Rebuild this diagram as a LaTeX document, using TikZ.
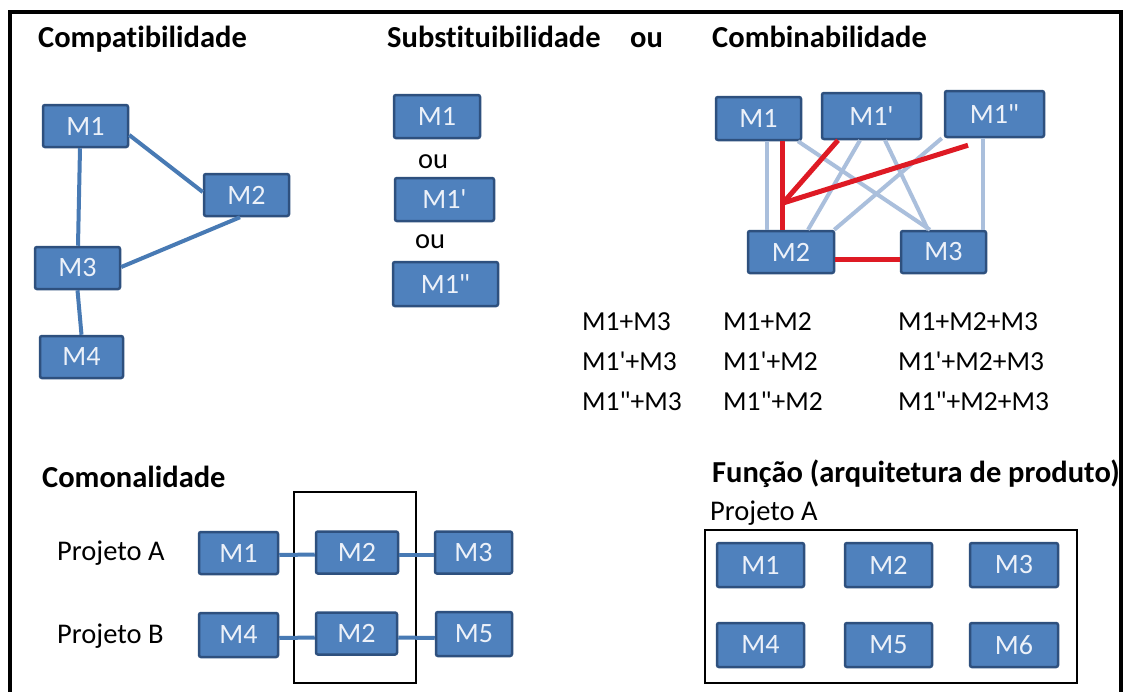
\documentclass[tikz,border=0pt]{standalone}
\usepackage{fontspec}
\setmainfont{Carlito}[Ligatures={NoCommon}]
\definecolor{boxfill}{RGB}{79,129,189}
\definecolor{boxdraw}{RGB}{46,80,126}
\definecolor{boxtext}{RGB}{236,241,249}
\definecolor{edgeblue}{RGB}{72,122,180}
\definecolor{lightedge}{RGB}{170,191,220}
\definecolor{rededge}{RGB}{222,26,36}
\newcommand{\pr}{\textquotesingle}
\newcommand{\dpr}{\textquotedbl}
\tikzset{
  mbox/.style={draw=boxdraw, line width=2.5pt, fill=boxfill, rounded corners=2pt,
    text=boxtext, font=\fontsize{28}{32}\selectfont, inner sep=0pt,
    minimum width=85pt, minimum height=42pt},
  ttl/.style={anchor=base west, inner sep=0pt, font=\bfseries\fontsize{30.5}{34}\selectfont},
  lbl/.style={anchor=base west, inner sep=0pt, font=\fontsize{28.5}{34}\selectfont},
  cmb/.style={anchor=base west, inner sep=0pt, font=\fontsize{27.5}{32}\selectfont},
  edge/.style={draw=edgeblue, line width=4pt},
  ledge/.style={draw=lightedge, line width=4pt},
  redge/.style={draw=rededge, line width=5pt},
  frame/.style={draw=black, line width=1.5pt}
}
\begin{document}
\begin{tikzpicture}[x=1pt, y=-1pt]
\useasboundingbox (0,0) rectangle (1127,691);
\fill[white] (0,0) rectangle (1127,691);
% outer frame
\draw[line width=4.5pt, line join=miter] (10,695) -- (10,12) -- (1121,12) -- (1121,695);

% titles
\node[ttl] (tcomp) at (38,47) {Compatibilidade};
\node[ttl] (tsubs) at (387,47) {Substituibilidade};
\node[ttl] (tou) at (630,47) {ou};
\node[ttl] (tcomb) at (712,47) {Combinabilidade};
\node[ttl] (tcomo) at (42,487) {Comonalidade};
\node[ttl] (tfunc) at (712,482) {Função (arquitetura de produto)};

% Compatibilidade
\node[mbox] (c1) at (85.5,126) {M1};
\node[mbox] (c2) at (246.5,195) {M2};
\node[mbox] (c3) at (77.5,268) {M3};
\node[mbox, minimum width=83pt] (c4) at (81.5,357) {M4};
\draw[edge] ([xshift=-5.5pt]c1.south) -- ([xshift=0.5pt]c3.north);
\draw[edge] ([yshift=-9pt]c1.east) -- ([yshift=3pt]c2.west);
\draw[edge] ([xshift=-6.5pt]c2.south) -- ([yshift=1pt]c3.east);
\draw[edge] (c3.south) -- (c4.north);

% Substituibilidade
\node[mbox, minimum width=86pt, minimum height=43pt] (s1) at (437,116.5) {M1};
\node[lbl] (ou1) at (418,168) {ou};
\node[mbox, minimum width=99pt, minimum height=43pt] (s2) at (444.5,199.5) {M1\pr};
\node[lbl] (ou2) at (415,248) {ou};
\node[mbox, minimum width=105pt, minimum height=44pt] (s3) at (445.5,284) {M1\dpr};

% Combinabilidade
\node[mbox, minimum height=43pt] (b1) at (758.5,118.5) {M1};
\node[mbox, minimum width=99pt, minimum height=46pt] (b1p) at (871.5,116) {M1\pr};
\node[mbox, minimum width=99pt, minimum height=46pt] (b1pp) at (994.5,114) {M1\dpr};
\node[mbox, minimum width=86pt] (b2) at (791,252) {M2};
\node[mbox] (b3) at (943.5,252) {M3};
\coordinate (J) at (783,203);
\draw[ledge] ([xshift=8.5pt]b1.south) -- ([xshift=-24pt]b2.north);
\draw[ledge] ([xshift=39.5pt]b1.south) -- ([xshift=-13.5pt]b3.north);
\draw[ledge] ([xshift=-11.5pt]b1p.south) -- ([xshift=17pt]b2.north);
\draw[ledge] ([xshift=13.5pt]b1p.south) -- ([xshift=-15.5pt]b3.north);
\draw[ledge] ([xshift=-2pt]b1pp.south west) -- ([xshift=-1pt]b2.north east);
\draw[ledge] ([xshift=-11.5pt]b1pp.south) -- ([xshift=39.5pt]b3.north);
\draw[redge] ([xshift=23.5pt]b1.south) -- ([xshift=-9pt]b2.north);
\draw[redge] ([xshift=-33.5pt]b1p.south) -- (J);
\draw[redge] ([xshift=-26.5pt,yshift=-7pt]b1pp.south) -- (J);
\draw[redge] ([yshift=-7pt]b2.east) -- ([yshift=-7pt]b3.west);

% combinations
\node[cmb] (k11) at (582,330) {M1+M3};
\node[cmb] (k21) at (582,370) {M1\pr+M3};
\node[cmb] (k31) at (582,410) {M1\dpr+M3};
\node[cmb] (k12) at (723,330) {M1+M2};
\node[cmb] (k22) at (723,370) {M1\pr+M2};
\node[cmb] (k32) at (723,410) {M1\dpr+M2};
\node[cmb] (k13) at (898,330) {M1+M2+M3};
\node[cmb] (k23) at (898,370) {M1\pr+M2+M3};
\node[cmb] (k33) at (898,410) {M1\dpr+M2+M3};

% Comonalidade
\node[lbl] (pa) at (57,560) {Projeto A};
\node[lbl] (pb) at (57,643) {Projeto B};
\draw[frame] (294,492) rectangle (416,683);
\node[mbox, minimum width=79pt] (a1) at (238.5,553) {M1};
\node[mbox, minimum width=82pt] (a2) at (357,552.5) {M2};
\node[mbox, minimum width=77pt] (a3) at (473.5,552.5) {M3};
\node[mbox, minimum width=79pt, minimum height=44pt] (d4) at (238.5,635) {M4};
\node[mbox, minimum width=81pt] (d2) at (356.5,633.5) {M2};
\node[mbox, minimum width=76pt, minimum height=44pt] (d5) at (474,634) {M5};
\draw[edge] ([yshift=-2pt]a1.east) -- ([yshift=-2pt]a2.west);
\draw[edge] ([yshift=-2pt]a2.east) -- ([yshift=-2pt]a3.west);
\draw[edge] ([yshift=-3pt]d4.east) -- ([yshift=-4pt]d2.west);
\draw[edge] ([yshift=-4pt]d2.east) -- ([yshift=-4pt]d5.west);

% Funcao
\node[lbl] (pfa) at (710,520) {Projeto A};
\draw[frame] (705,530) rectangle (1077,683);
\node[mbox, minimum width=87pt, minimum height=44pt] (f1) at (760.5,565) {M1};
\node[mbox, minimum width=87pt, minimum height=44pt] (f2) at (888.5,565) {M2};
\node[mbox, minimum width=88pt, minimum height=44pt] (f3) at (1014,565) {M3};
\node[mbox, minimum width=87pt, minimum height=44pt] (f4) at (760.5,645) {M4};
\node[mbox, minimum width=87pt, minimum height=44pt] (f5) at (888.5,645) {M5};
\node[mbox, minimum width=88pt, minimum height=44pt] (f6) at (1014,645) {M6};
\end{tikzpicture}
\end{document}
